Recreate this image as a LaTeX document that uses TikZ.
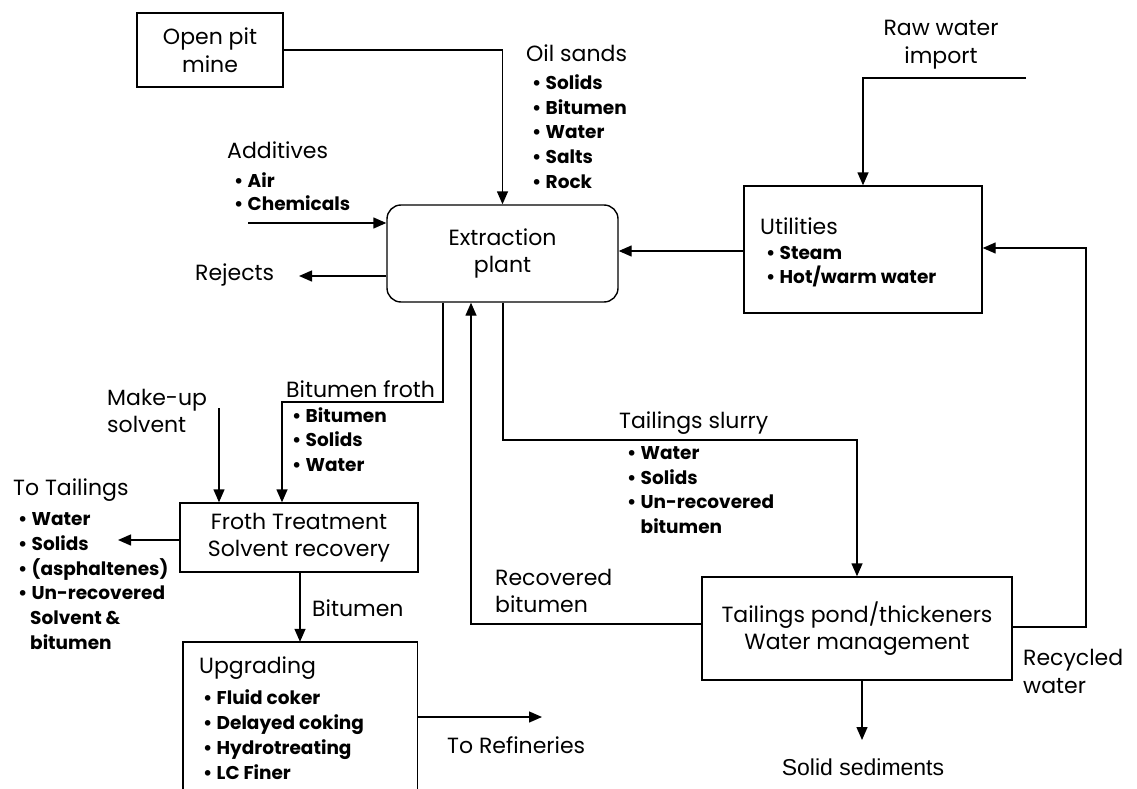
\documentclass[tikz,border=0pt]{standalone}
\usepackage{fontspec}
\setmainfont{Poppins}
\newfontfamily\arialf{Liberation Sans}
\usetikzlibrary{arrows.meta}
\newcommand\hdfont{\fontsize{22}{27.5}\selectfont}
\newcommand\lsfont{\bfseries\fontsize{18.5}{24.5}\selectfont}
\newcommand\bi[1]{\makebox[13.5pt][l]{\textbullet}#1}
\tikzset{
  wire/.style={line width=1.4pt},
  flow/.style={line width=1.4pt, -{Triangle[length=13pt,width=11pt]}},
  box/.style={draw, line width=1.4pt, inner sep=0pt, align=center, font=\hdfont},
  head/.style={inner sep=0pt, font=\hdfont},
  lst/.style={inner sep=0pt, align=left, anchor=west, font=\lsfont},
}
\begin{document}
\begin{tikzpicture}[x=1pt, y=-1pt]
\useasboundingbox (0,0) rectangle (1137,789);
\clip (0,0) rectangle (1137,789);

% boxes
\node[box, minimum width=146pt, minimum height=74pt] (open) at (210,50) {Open pit\\mine};
\node[box, rounded corners=14pt, minimum width=231pt, minimum height=97pt] (extr) at (502.5,253.5) {Extraction\\plant};
\node[draw, line width=1.4pt, minimum width=238pt, minimum height=127pt] (util) at (863,249.5) {};
\node[box, minimum width=238pt, minimum height=69pt] (froth) at (299,537.5) {Froth Treatment\\Solvent recovery};
\node[box, minimum width=310pt, minimum height=103pt] (tail) at (857,628.5) {Tailings pond/thickeners\\Water management};
\node[minimum width=234pt, minimum height=158pt, inner sep=0pt] (upg) at (300,721) {};
\draw[wire] (upg.south west) -- (upg.north west) -- (upg.north east) -- (upg.south east);

% labels
\node[head, anchor=west] (oilh) at (526,53) {Oil sands};
\node[lst, font={\bfseries\fontsize{18.5}{24.75}\selectfont}] (oill) at (532,131.5) {\bi{Solids}\\\bi{Bitumen}\\\bi{Water}\\\bi{Salts}\\\bi{Rock}};
\node[head, anchor=west] (addh) at (227,150) {Additives};
\node[lst, font={\bfseries\fontsize{18.5}{23}\selectfont}] (addl) at (234,191.5) {\bi{Air}\\\bi{Chemicals}};
\node[head, align=center] (raw) at (941,44.5) {Raw water\\import};
\node[head, anchor=west] (rej) at (195,275) {Rejects};
\node[head, anchor=west] (utilh) at (760,226) {Utilities};
\node[lst, font={\bfseries\fontsize{18.5}{24}\selectfont}] (utill) at (766,267) {\bi{Steam}\\\bi{Hot/warm water}};
\node[head, anchor=west] (bfh) at (286,389) {Bitumen froth};
\node[lst] (bfl) at (292,439.5) {\bi{Bitumen}\\\bi{Solids}\\\bi{Water}};
\node[head, anchor=west, align=left] (mus) at (107,411) {Make-up\\solvent};
\node[head, anchor=west] (tth) at (13,490) {To Tailings};
\node[lst, font={\bfseries\fontsize{18.5}{24.8}\selectfont}] (ttl) at (18,581) {\bi{Water}\\\bi{Solids}\\\bi{(asphaltenes)}\\\bi{Un-recovered}\\\hspace{12pt}Solvent \&\\\hspace{12pt}bitumen};
\node[head, anchor=west] (bith) at (312,608) {Bitumen};
\node[head, anchor=west] (upgh) at (199,668) {Upgrading};
\node[lst, font={\bfseries\fontsize{18.5}{25}\selectfont}] (upgl) at (203,734.5) {\bi{Fluid coker}\\\bi{Delayed coking}\\\bi{Hydrotreating}\\\bi{LC Finer}};
\node[head, anchor=west] (refh) at (447,745) {To Refineries};
\node[head, anchor=west] (tsh) at (619,423) {Tailings slurry};
\node[lst, font={\bfseries\fontsize{18.5}{24.7}\selectfont}] (tsl) at (627,490) {\bi{Water}\\\bi{Solids}\\\bi{Un-recovered}\\\hspace{13.5pt}bitumen};
\node[head, anchor=west, align=left] (recb) at (495,591) {Recovered\\bitumen};
\node[head, anchor=west, align=left] (recw) at (1023,671.5) {Recycled\\water};
\node[inner sep=0pt, font={\arialf\fontsize{23}{27}\selectfont}] (sed) at (863,767) {Solid sediments};

% free ends
\coordinate (addS) at (248,223);
\coordinate (rejE) at (299,276);
\coordinate (rawS) at (1026,78);
\coordinate (mkS) at (219,408);
\coordinate (ttE) at (118,540);
\coordinate (refE) at (542,717);
\coordinate (sedE) at (862,740);

% connectors
\draw[flow] (open.east) -| (extr.north);
\draw[flow] (addS) -- (addS -| extr.west);
\draw[flow] (rejE -| extr.west) -- (rejE);
\draw[flow] (util.west |- 0,251) -- (extr.east |- 0,251);
\draw[flow] (rawS) -| (util.north);
\draw[flow] (tail.east |- 0,627) -| (1086,248) -- (util.east |- 0,248);
\draw[flow] (extr.south -| 443,0) |- (282,402) -- (froth.north -| 282,0);
\draw[flow] (mkS) -- (mkS |- froth.north);
\draw[flow] (froth.west |- ttE) -- (ttE);
\draw[flow] (froth.south -| 300,0) -- (upg.north -| 300,0);
\draw[flow] (upg.east |- refE) -- (refE);
\draw[flow] (tail.west |- 0,624) -| (extr.south -| 471,0);
\draw[flow] (extr.south -| 503,0) |- (857,440) -- (tail.north -| 857,0);
\draw[flow] (tail.south -| sedE) -- (sedE);
\end{tikzpicture}
\end{document}
